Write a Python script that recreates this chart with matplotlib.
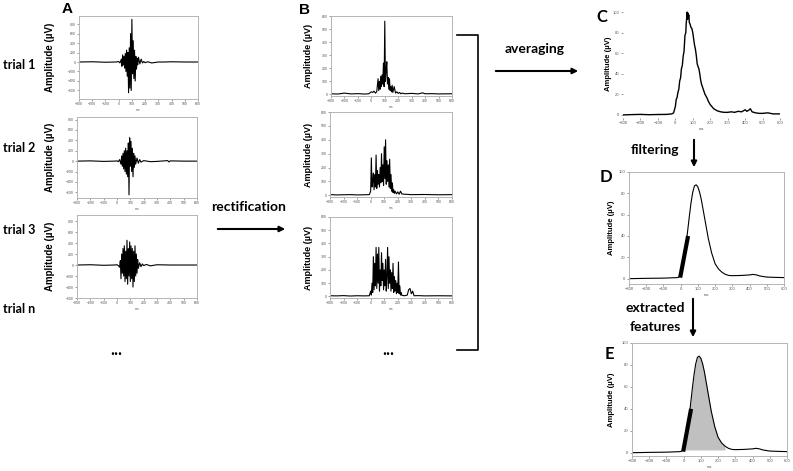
import matplotlib.pyplot as plt
import numpy as np

plt.rcParams['font.family'] = ['Liberation Sans', 'DejaVu Sans']

# ---- raw trials (panel A) ----
a1_t = [-300, -200, -100, -20, 0, 10, 20, 25, 30, 35, 40, 45, 50, 55, 60, 65, 70, 75, 80, 85, 90, 95,
        100, 105, 110, 115, 120, 125, 130, 135, 140, 145, 150, 160, 170, 180, 190, 200, 220, 250,
        300, 350, 400, 500, 600]
a1_v = [0, 5, -5, 0, 10, -20, 60, -90, 150, -60, 120, -130, 180, -200, 250, -300, 200, -650, 300,
        -550, 600, -600, 900, -250, 450, -350, 250, -400, 120, -150, 80, -60, 100, -40, 60, -20, 10,
        -15, 5, -20, 0, 0, 5, 0, 0]

a2_t = [-300, -200, -100, -20, 0, 10, 20, 30, 35, 40, 45, 50, 55, 60, 65, 70, 75, 80, 85, 90, 95,
        100, 105, 110, 115, 120, 125, 130, 135, 140, 150, 160, 170, 180, 200, 250, 300, 380, 390,
        400, 500, 600]
a2_v = [0, 5, -5, 0, 5, -10, 30, -60, 100, -100, 150, -150, 200, -200, 250, -250, 200, -300, 350,
        -650, 450, -100, 380, -200, 250, -300, 150, -120, 100, -60, 60, -40, 30, -20, 10, -10, -5,
        10, -15, 5, 0, 0]

a3_t = [-300, -200, -100, -20, 0, 10, 20, 25, 30, 35, 40, 45, 50, 55, 60, 65, 70, 75, 80, 85, 90,
        95, 100, 105, 110, 115, 120, 125, 130, 135, 140, 145, 150, 155, 160, 170, 180, 190, 200,
        220, 250, 300, 400, 500, 600]
a3_v = [0, 5, -5, 0, 5, -10, -40, 80, -250, 200, -150, 300, -200, 350, -300, 250, -250, 450, -350,
        300, -200, 420, -300, 350, -250, 300, -400, 250, -300, 350, -200, 200, -150, 100, -60, 40,
        -30, 20, -10, 10, -15, 5, 0, 0, 0]

# ---- rectified trials (panel B) ----
b1_t = [-300, -250, -200, -150, -100, -50, -20, 0, 10, 20, 30, 40, 50, 55, 60, 65, 70, 75, 80, 85,
        90, 95, 100, 105, 110, 115, 120, 125, 130, 135, 140, 145, 150, 155, 160, 170, 180, 190, 200,
        210, 220, 230, 250, 300, 350, 380, 400, 450, 500, 600]
b1_v = [5, 3, 10, 4, 6, 3, 5, 20, 15, 25, 10, 20, 120, 30, 100, 40, 140, 60, 150, 80, 240, 60, 560,
        100, 180, 250, 80, 130, 40, 120, 30, 60, 20, 70, 15, 60, 10, 20, 8, 15, 5, 10, 5, 8, 4, 12,
        5, 6, 4, 5]

b2_t = [-300, -250, -200, -150, -100, -50, -10, 0, 5, 10, 15, 20, 25, 30, 35, 40, 45, 50, 55, 60,
        65, 70, 75, 80, 85, 90, 95, 100, 105, 110, 115, 120, 125, 130, 135, 140, 145, 150, 155, 160,
        165, 170, 175, 180, 190, 200, 210, 220, 230, 250, 300, 400, 500, 600]
b2_v = [5, 3, 4, 5, 3, 4, 5, 30, 270, 60, 100, 160, 40, 150, 60, 290, 50, 180, 80, 150, 60, 200, 90,
        300, 100, 220, 70, 350, 120, 400, 80, 250, 100, 220, 60, 260, 50, 150, 30, 90, 20, 40, 15,
        30, 10, 25, 8, 30, 10, 8, 5, 6, 4, 5]

b3_t = [-300, -250, -200, -150, -100, -50, -10, 0, 5, 10, 15, 20, 25, 30, 35, 40, 45, 50, 55, 60,
        65, 70, 75, 80, 85, 90, 95, 100, 105, 110, 115, 120, 125, 130, 135, 140, 145, 150, 155, 160,
        165, 170, 175, 180, 185, 190, 195, 200, 205, 210, 215, 220, 225, 230, 250, 270, 280, 290,
        300, 310, 320, 350, 400, 500, 600]
b3_v = [5, 4, 6, 3, 5, 4, 5, 40, 10, 100, 30, 300, 50, 250, 80, 370, 60, 320, 100, 370, 40, 200, 80,
        330, 120, 250, 50, 200, 80, 280, 40, 150, 370, 60, 300, 100, 200, 40, 180, 60, 250, 30, 150,
        40, 120, 20, 100, 30, 260, 20, 80, 10, 30, 8, 5, 10, 50, 60, 20, 40, 5, 6, 4, 5, 4]

# ---- averaged (C) ----
c_t = [-300, -250, -200, -150, -100, -50, -20, -10, 0, 5, 10, 15, 20, 25, 30, 35, 40, 45, 50, 55,
       60, 62, 65, 68, 70, 73, 75, 78, 80, 85, 90, 95, 100, 105, 110, 115, 120, 125, 130, 135, 140,
       145, 150, 160, 170, 180, 190, 200, 210, 220, 240, 260, 280, 300, 320, 340, 360, 380, 400,
       410, 420, 430, 440, 460, 480, 500, 530, 560, 600]
c_v = [0, 0.3, 0.5, 0.2, 0.4, 0.5, 1, 2, 8, 15, 17, 22, 25, 33, 36, 45, 48, 57, 62, 77, 80, 88, 94,
       100, 93, 99, 96, 97, 90, 88, 85, 84, 80, 74, 68, 64, 58, 50, 47, 45, 40, 34, 30, 25, 20, 17,
       13, 10, 8, 6, 4, 3, 2.5, 2.5, 3, 2.5, 3.5, 3, 5, 3.5, 4.5, 6, 3, 2, 1.5, 1.5, 2, 1, 1]

# ---- filtered (D, E) ----
d_t = [-300, -200, -100, -50, -20, -10, 0, 10, 20, 30, 40, 50, 60, 70, 80, 90, 100, 110, 120, 130,
       140, 150, 160, 170, 180, 190, 200, 220, 240, 260, 280, 300, 350, 400, 420, 440, 460, 500,
       550, 600]
d_v = [0, 0.3, 0.5, 0.8, 1, 1.5, 3, 9, 18, 30, 44, 58, 71, 81, 87, 88, 86, 81, 74, 65, 56, 47, 38,
       31, 24, 19, 14, 9, 6, 4, 3, 2.8, 3, 3.5, 4, 3.5, 2.5, 1.5, 1.2, 1]

slope_t = [-3, 43]
slope_v = [1, 40]
area_start, area_end, area_base = 0, 240, 2.5

W, H = 793, 471
fig = plt.figure(figsize=(W / 100, H / 100), dpi=100)


def box(l, t, r, b):
    return [l / W, 1 - b / H, (r - l) / W, (b - t) / H]


def style(ax, yticks, ylim, lab_x, lab_size, tick_size, frame=True):
    ax.set_xlim(-300, 600)
    ax.set_xticks(range(-300, 601, 100))
    ax.set_ylim(*ylim)
    ax.set_yticks(yticks)
    ax.tick_params(labelsize=tick_size, length=1.5, width=0.4, colors='#555555', pad=1)
    for s in ax.spines.values():
        s.set_color('#b5b5b5')
        s.set_linewidth(0.7)
        s.set_visible(frame)
    ax.set_xlabel('ms', fontsize=tick_size, color='#555555', labelpad=1)
    ax.set_ylabel('Amplitude (µV)', fontsize=lab_size, fontweight='bold')
    ax.yaxis.set_label_coords(lab_x, 0.5)


ytA = range(-600, 801, 200)
for (t, v, rect, lim) in [(a1_t, a1_v, (79, 16, 198, 99), (-780, 970)),
                          (a2_t, a2_v, (77, 117, 197, 198), (-710, 850)),
                          (a3_t, a3_v, (77, 215, 197, 298), (-600, 910))]:
    ax = fig.add_axes(box(*rect))
    ax.plot(t, v, color='black', lw=0.8)
    style(ax, ytA, lim, (55 - rect[0]) / (rect[2] - rect[0]), 7, 2.5)

ytB = range(0, 601, 100)
for (t, v, rect) in [(b1_t, b1_v, (331, 16, 452, 96)),
                     (b2_t, b2_v, (330, 112, 452, 197)),
                     (b3_t, b3_v, (330, 217, 452, 298))]:
    ax = fig.add_axes(box(*rect))
    ax.plot(t, v, color='black', lw=0.8)
    style(ax, ytB, (-12, 600), (313 - rect[0]) / (rect[2] - rect[0]), 6.5, 2.5)

# C
ax = fig.add_axes(box(623, 9, 780, 118))
ax.plot(c_t, c_v, color='black', lw=1.0)
style(ax, range(0, 101, 20), (-3, 103), -0.07, 5.5, 3, frame=False)

# D
ax = fig.add_axes(box(629, 172, 784, 284))
ax.plot(d_t, d_v, color='black', lw=0.8)
ax.plot(slope_t, slope_v, color='black', lw=3, solid_capstyle='butt')
style(ax, range(0, 101, 20), (-5, 100), -0.09, 5.5, 3)

# E
ax = fig.add_axes(box(632, 343, 787, 456))
t = np.array(d_t)
ax.fill_between(t, d_v, area_base, where=(t >= area_start) & (t <= area_end),
                color='#c0c0c0', lw=0)
ax.plot(d_t, d_v, color='black', lw=0.8)
ax.plot(slope_t, slope_v, color='black', lw=3, solid_capstyle='butt')
style(ax, range(0, 101, 20), (-3, 100), -0.11, 5.5, 3)


def txt(x, y, s, **kw):
    fig.text(x / W, 1 - y / H, s, ha='center', va='center', **kw)


lato = ['Lato', 'DejaVu Sans']
txt(67, 9, 'A', fontsize=11, fontweight='bold')
txt(304, 10, 'B', fontsize=11, fontweight='bold')
txt(602, 17, 'C', fontsize=12, fontweight='bold', family=lato)
txt(606, 177, 'D', fontsize=12, fontweight='bold', family=lato)
txt(609, 354, 'E', fontsize=12, fontweight='bold', family=lato)

for y, s in [(65, 'trial 1'), (148, 'trial 2'), (230, 'trial 3'), (309, 'trial n')]:
    fig.text(3 / W, 1 - y / H, s, ha='left', va='center', fontsize=9, fontweight='bold', family=lato)
txt(116, 350, '...', fontsize=12, fontweight='bold', family=lato)
txt(388, 350, '...', fontsize=12, fontweight='bold', family=lato)

txt(249, 207, 'rectification', fontsize=10, fontweight='bold', family=lato)
txt(535, 49, 'averaging', fontsize=10, fontweight='bold', family=lato)
txt(655, 150, 'filtering', fontsize=10, fontweight='bold', family=lato)
txt(655, 308, 'extracted', fontsize=10, fontweight='bold', family=lato)
txt(655, 327, 'features', fontsize=10, fontweight='bold', family=lato)


def arrow(x1, y1, x2, y2):
    fig.add_artist(plt.matplotlib.patches.FancyArrowPatch(
        (x1 / W, 1 - y1 / H), (x2 / W, 1 - y2 / H), transform=fig.transFigure,
        arrowstyle='-|>', mutation_scale=8, lw=1.5, color='black'))


arrow(215, 229, 288, 229)
arrow(493, 71, 581, 71)
arrow(694, 137, 694, 170)
arrow(693, 296, 693, 340)

bx = [457, 478, 478, 457]
by = [35, 35, 350, 350]
fig.add_artist(plt.Line2D([x / W for x in bx], [1 - y / H for y in by],
                          transform=fig.transFigure, color='black', lw=1.2))

fig.savefig('out.png', dpi=100)
